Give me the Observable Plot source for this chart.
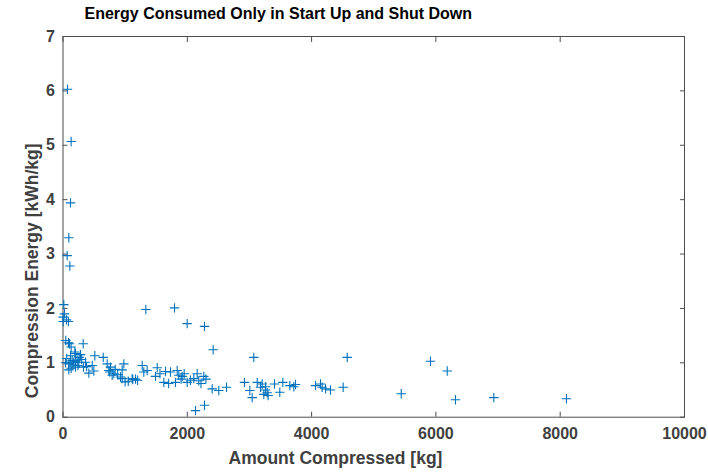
<!DOCTYPE html>
<html><head><meta charset="utf-8">
<script src="https://cdn.jsdelivr.net/npm/d3@7"></script>
<script src="https://cdn.jsdelivr.net/npm/@observablehq/plot@0.6"></script>
<style>
body{margin:0;background:#fff;}
#chart svg{font-family:"Liberation Sans",Arial,sans-serif;}
</style></head>
<body><div id="chart"></div>
<script>
const titleText = "Energy Consumed Only in Start Up and Shut Down";
const xLabel = "Amount Compressed [kg]";
const yLabel = "Compression Energy [kWh/kg]";
const xTicks = [0, 2000, 4000, 6000, 8000, 10000];
const yTicks = [0, 1, 2, 3, 4, 5, 6, 7];

const amount = [
  72,131,121,94,67,110,
  13,24,3,56,3,88,
  1333,1794,1998,2277,2416,3070,4573,5913,6182,6315,5442,6932,8101,
  2132,2277,
  45,88,131,325,105,121,201,282,512,647,148,228,94,174,255,362,470,94,201,416,496,60,160,300,240,130,330,190,260,40,115,380,200,
  711,979,737,818,952,925,1123,764,753,791,952,1113,1167,1274,1300,1354,1050,1200,1000,880,840,
  1516,1649,1622,1488,1730,1837,1863,1810,1918,1998,2105,2159,2185,2266,2300,2400,2507,2631,1700,1950,2050,2220,1560,1900,
  2920,3006,3044,3125,3205,3178,3258,3231,3285,3403,3488,3537,3650,3714,3741,4063,4143,4170,4224,4304,4508,3300,3260
];
const energy = [
  6.03,5.07,3.94,3.30,2.97,2.78,
  2.07,1.90,1.84,1.79,1.76,1.76,
  1.98,2.01,1.72,1.67,1.24,1.10,1.10,1.03,0.85,0.32,0.43,0.36,0.34,
  0.12,0.22,
  1.41,1.37,1.29,1.35,1.35,1.13,1.17,1.15,1.13,1.10,1.04,1.05,0.98,1.01,1.01,1.01,0.95,0.87,0.92,0.81,0.85,1.08,0.96,1.06,0.95,0.90,0.92,1.20,1.10,1.00,1.00,0.93,1.02,
  0.98,0.98,0.86,0.80,0.87,0.74,0.69,0.92,0.83,0.77,0.71,0.71,0.70,0.95,0.83,0.86,0.66,0.68,0.65,0.78,0.88,
  0.91,0.84,0.64,0.75,0.83,0.86,0.77,0.64,0.75,0.64,0.71,0.80,0.67,0.75,0.70,0.52,0.49,0.55,0.62,0.80,0.68,0.62,0.80,0.70,
  0.64,0.49,0.36,0.64,0.61,0.55,0.50,0.42,0.45,0.61,0.46,0.64,0.58,0.56,0.60,0.58,0.61,0.55,0.52,0.50,0.55,0.40,0.56
];
const data = amount.map((a, i) => ({amount: a, energy: energy[i]}));

const plusSymbol = {
  draw(ctx, size) {
    const r = Math.sqrt(size / Math.PI);
    ctx.moveTo(-r, 0); ctx.lineTo(r, 0);
    ctx.moveTo(0, -r); ctx.lineTo(0, r);
  }
};

const axisColor = "#4d4d4d";
const labelColor = "#404040";

const chart = Plot.plot({
  width: 708,
  height: 473,
  marginLeft: 62.5,
  marginRight: 24,
  marginTop: 36,
  marginBottom: 56.3,
  style: {fontFamily: '"Liberation Sans", Arial, sans-serif', background: "#fff"},
  x: {domain: [0, 10000]},
  y: {domain: [0, 7]},
  marks: [
    Plot.frame({stroke: axisColor, strokeWidth: 1}),
    Plot.axisX(xTicks, {anchor: "bottom", tickSize: -5, tickPadding: 15, stroke: axisColor, fill: labelColor, fontSize: 16, fontWeight: "bold", label: null, tickFormat: d => String(d)}),
    Plot.axisX(xTicks, {anchor: "top", tickSize: -5, text: null, stroke: axisColor, label: null}),
    Plot.axisY(yTicks, {anchor: "left", tickSize: -5, tickPadding: 13, stroke: axisColor, fill: labelColor, fontSize: 16, fontWeight: "bold", label: null, tickFormat: d => String(d)}),
    Plot.axisY(yTicks, {anchor: "right", tickSize: -5, text: null, stroke: axisColor, label: null}),
    Plot.dot(data, {x: "amount", y: "energy", symbol: plusSymbol, r: 4.7, stroke: "#0072BD", strokeWidth: 1.1, fill: "none"}),
    Plot.text([titleText], {frameAnchor: "top-left", dx: 84 - 62.5, dy: -29, textAnchor: "start", lineAnchor: "top", fontSize: 16, fontWeight: "bold", fill: "#000"}),
    Plot.text([xLabel], {frameAnchor: "bottom-left", dx: 228 - 62.5, dy: 34, textAnchor: "start", lineAnchor: "top", fontSize: 17.5, fontWeight: "bold", fill: labelColor}),
    Plot.text([yLabel], {frameAnchor: "left", dx: -31, dy: 44, rotate: -90, textAnchor: "middle", lineAnchor: "middle", fontSize: 17.5, fontWeight: "bold", fill: labelColor})
  ]
});
document.getElementById("chart").appendChild(chart);
</script></body></html>
